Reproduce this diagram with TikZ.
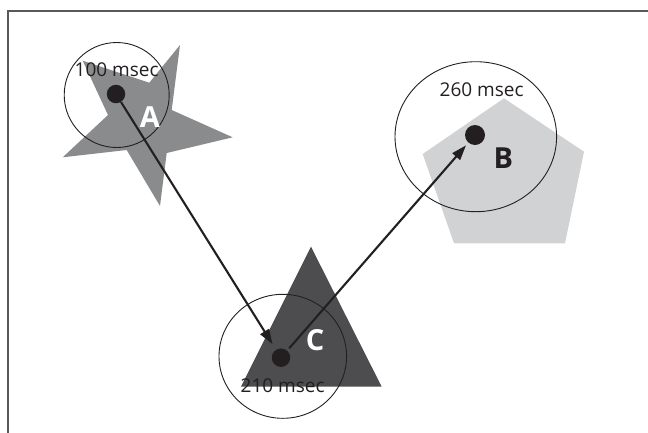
\documentclass[tikz,border=0pt]{standalone}
\usepackage{fontspec}
\setmainfont{Open Sans}
\usetikzlibrary{arrows.meta}
\definecolor{starg}{HTML}{8A8B8D}
\definecolor{pentg}{HTML}{D1D2D4}
\definecolor{trig}{HTML}{4D4D4F}
\definecolor{ink}{HTML}{231F20}
\definecolor{framec}{HTML}{58595B}
\tikzset{
  dot/.style={circle, fill=ink, inner sep=0pt, minimum size=18.5pt},
  zone/.style={draw=ink, line width=0.9pt},
  conn/.style={draw=ink, line width=2.1pt, -{Triangle[length=15pt,width=10pt]}},
  timelbl/.style={font=\fontsize{19}{19}\selectfont, text=ink, inner sep=0pt},
  letter/.style={font=\fontsize{29}{29}\selectfont\bfseries, inner sep=0pt},
}
\begin{document}
\begin{tikzpicture}[x=1pt,y=-1pt]
\useasboundingbox (0,0) rectangle (648,432);
% frame
\draw[framec, line width=2pt] (652,11) -- (7.7,11) -- (7.7,436);
% shapes
\fill[starg] (180,45) -- (171.7,110) -- (232.7,137.3) -- (166.7,153) -- (160,206)
  -- (126.7,150) -- (62.7,157.3) -- (108,115) -- (82.7,60.7) -- (149.3,82.7) -- cycle;
\fill[pentg] (504,98.3) -- (584,151.7) -- (565,243.3) -- (454,243.3) -- (422.7,154) -- cycle;
\fill[trig] (311,246.7) -- (381.7,386.7) -- (241,386.7) -- cycle;
% zones
\draw[zone] (116.7,95) circle [radius=52.5];
\draw[zone] (475.8,136.7) ellipse [x radius=80.8, y radius=75];
\draw[zone] (282.8,356.3) ellipse [x radius=63.8, y radius=62];
% dots
\node[dot] (a) at (116,94) {};
\node[dot, minimum size=20pt] (b) at (475,135) {};
\node[dot] (c) at (281,357.7) {};
% connectors
\draw[conn, shorten >=6.5pt] (a) -- (c);
\draw[conn, shorten <=3pt, shorten >=3.5pt] (c) -- (b);
% labels
\node[timelbl] (ta) at (116.7,69.5) {100 msec};
\node[timelbl] (tb) at (481.7,90) {260 msec};
\node[timelbl] (tc) at (282.7,386) {210 msec};
\node[letter, text=white] (la) at (150,117.5) {A};
\node[letter, text=ink] (lb) at (503.3,158.3) {B};
\node[letter, text=white] (lc) at (315,340) {C};
\end{tikzpicture}
\end{document}
